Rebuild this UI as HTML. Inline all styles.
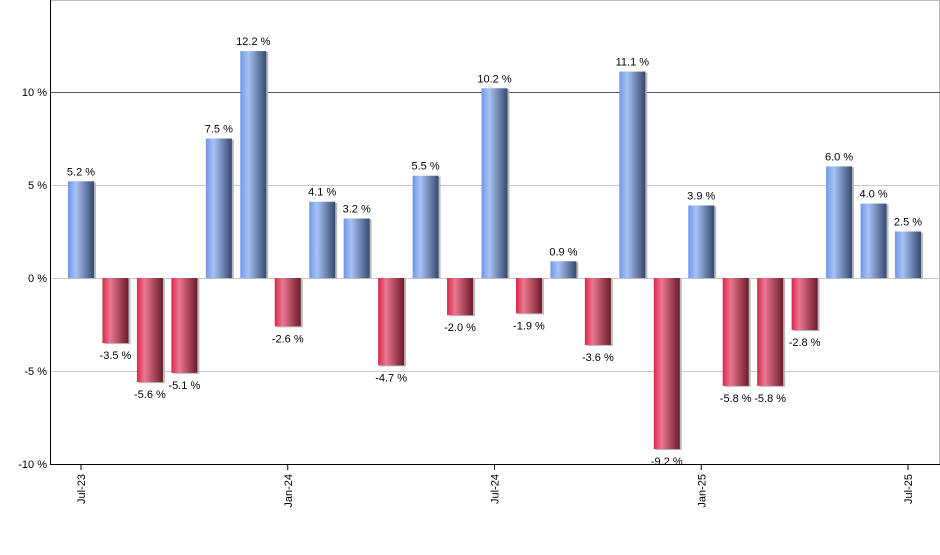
<!DOCTYPE html>
<html><head><meta charset="utf-8"><style>
body{margin:0;background:#fff;font-family:"Liberation Sans",sans-serif}
svg text{font-family:"Liberation Sans",sans-serif;font-size:11px;fill:#000}
</style></head><body>
<svg id="c" width="940" height="550">
<defs>
<linearGradient id="gb" x1="0" x2="1" y1="0" y2="0"><stop offset="0" stop-color="#6f98ea"/><stop offset="0.3" stop-color="#a8c2f4"/><stop offset="1" stop-color="#34496e"/></linearGradient>
<linearGradient id="gr" x1="0" x2="1" y1="0" y2="0"><stop offset="0" stop-color="#d8284c"/><stop offset="0.3" stop-color="#ea7890"/><stop offset="1" stop-color="#6c1a2a"/></linearGradient>
</defs>
</svg>
<script>
const months=["Jul-23","Aug-23","Sep-23","Oct-23","Nov-23","Dec-23","Jan-24","Feb-24","Mar-24","Apr-24","May-24","Jun-24","Jul-24","Aug-24","Sep-24","Oct-24","Nov-24","Dec-24","Jan-25","Feb-25","Mar-25","Apr-25","May-25","Jun-25","Jul-25"];
const returns=[5.2,-3.5,-5.6,-5.1,7.5,12.2,-2.6,4.1,3.2,-4.7,5.5,-2.0,10.2,-1.9,0.9,-3.6,11.1,-9.2,3.9,-5.8,-5.8,-2.8,6.0,4.0,2.5];
const yTicks=[-10,-5,0,5,10];
const xLabelIdx=[0,6,12,18,24];
const svg=document.getElementById('c');const NS='http://www.w3.org/2000/svg';
const y=v=>278-v*18.6;
const x=i=>81+i*(908-81)/(months.length-1);
function mk(t,a,p){const e=document.createElementNS(NS,t);for(const k in a)e.setAttribute(k,a[k]);(p||svg).appendChild(e);return e;}
mk('line',{x1:50,x2:940,y1:0.5,y2:0.5,stroke:'#bbb'});
mk('line',{x1:939.5,x2:939.5,y1:0,y2:464,stroke:'#bbb'});
yTicks.concat([15]).forEach(v=>{if(v===-10)return;
 const g=mk('line',{x1:50,x2:940,y1:y(v)+0.5,y2:y(v)+0.5,stroke:v===10?'#555':'#c8c8c8'});
 });
yTicks.forEach(v=>{const t=mk('text',{x:47,y:y(v)+4,'text-anchor':'end'});t.textContent=v+' %';
 });
returns.forEach((v,i)=>{
 const top=Math.min(y(v),y(0)),h=Math.abs(y(v)-y(0));
 mk('rect',{x:x(i)-13+2,y:top+1,width:26,height:h,fill:'#bbb'});
 const r=mk('rect',{x:x(i)-13,y:top,width:26,height:h,fill:v>=0?'url(#gb)':'url(#gr)'});
 
 
 const t=mk('text',{x:x(i),y:v>=0?y(v)-6:y(v)+16,'text-anchor':'middle'});
 t.textContent=v.toFixed(1)+' %';
 
 
});
mk('line',{x1:50.5,x2:50.5,y1:0,y2:465,stroke:'#000'});
mk('line',{x1:50,x2:940,y1:464.5,y2:464.5,stroke:'#000'});
xLabelIdx.forEach(i=>{
 mk('line',{x1:x(i),x2:x(i),y1:464,y2:470,stroke:'#000'});
 const t=mk('text',{transform:`translate(${x(i)+4},474) rotate(-90)`,'text-anchor':'end'});
 t.textContent=months[i];
 
 
});
</script>
</body></html>
